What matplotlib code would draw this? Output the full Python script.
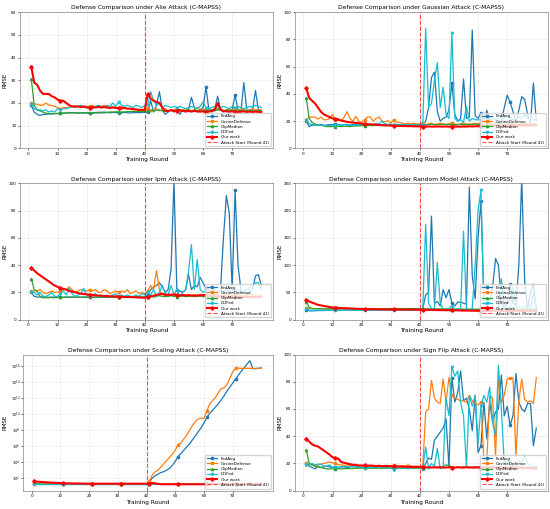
import numpy as np
import matplotlib
matplotlib.use("Agg")
import matplotlib.pyplot as plt

rounds = list(range(1, 81))
attack_round = 40

# ─── Alie ───
alie_fedavg = [19,16,15,14.5,15,15,15.2,15.2,15.3,15.3, 15.5,15.5,15.6,15.6,15.7,15.6,15.5,15.6,15.5,15.6,
               15.4,15.5,15.6,15.6,15.7,15.6,15.8,15.7,15.8,15.8, 15.8,15.7,15.8,15.7,15.6,15.7,15.8,15.7,15.8,15.9,
               16,21,16,19,25,17,15,16,17,16, 17,15,17,16,17,22.5,18,16,17,18,
               27,17,16,17,23,17,16,17,16,17, 23.5,17,16,29,17,16,17,25.5,17,16]
alie_cosine = [20,19.5,19.5,19,19,20,19,19,18.5,18, 17.5,18,18,18,18.5,18,18.5,18,18.5,18.5,
               18.5,19,18,18.5,18.5,19,18.5,18,18.5,18, 18,18.5,18,17.5,17.5,17,17,16.5,16.5,16.5,
               18,16,17,17.5,16.5,17,17.5,16.5,17,17, 17.5,16.5,17,17.5,17,16.5,17,18,17,17.5,
               17,16.5,17,17.5,17,17.5,16.5,17,17.5,17, 18,17,17.5,17,16.5,17,17.5,17,17,17]
alie_clip = [30.5,19,17,16.5,16,15.5,15.3,15.3,15.4,15.4, 15.5,15.5,15.6,15.6,15.7,15.7,15.6,15.7,15.7,15.8,
             15.8,15.7,15.8,15.9,15.9,16,15.9,16,16,16.1, 16.1,16,16.1,16.2,16.2,16.3,16.2,16.3,16.3,16.4,
             16.5,17,16.5,16.8,17,16.5,16.3,16.5,16.8,16.5, 16.8,17,16.5,16.8,17,16.5,16.8,16.5,17,16.8,
             16.5,16.8,17,16.5,17,16.8,16.5,16.8,17,16.8, 16.5,16.8,16.5,16.8,16.5,16.8,16.5,16.5,16.8,16.5]
alie_ddfed = [19.5,17.5,17,17,16.5,17,16,16.5,16,17.5, 17,17.5,17.5,18,18.5,18,18.5,19,18,18.5,
              18,17.5,18.5,19,18.5,18,19,18.5,20,18.5, 20.5,19,18.5,19,18.5,18,19,18.5,18,19,
              19,25,21,19,20,18,19,18.5,18,18.5, 18,18.5,18,17.5,18,18.5,18,17.5,18.5,20.5,
              18,17.5,18,18.5,17.5,18,18.5,18,17.5,18.5, 18,18.5,18,17.5,18,18.5,18,19,18.5,18]
alie_our = [36,29,28,25.5,24,24,24,23,22.5,21.5, 21,21,20,19,18.5,18.5,18.5,18.2,18.5,18,
            18,18.2,18,18.3,18,18.2,18,17.8,18,17.8, 17.8,17.6,17.8,17.5,17.5,17.3,17.2,17,17,17,
            24,22,21,20.5,20,18,16.5,16.5,16.8,16.5, 16.5,16.8,16.5,16.3,16.5,16.2,16.5,16.3,16.2,16.3,
            16,16.2,16.5,17,20,17,16.5,16.3,16.2,16.3, 16.2,16,16.2,16.3,16,16.2,16,16.2,16,16]

# ─── Gaussian ───
gauss_fedavg = [20,16,17,17,17,17.5,17,17,17.5,17.5, 18,17.5,17,17.5,17.5,17,17.5,17,17,17,
                17.5,17,17.5,17,17.5,17,17,17.5,17,17, 17.5,17,17.5,17,17,17.5,17,17,17.5,17,
                17,20,30,52,56,27,20,22,23,28, 48,25,20,22,51,22,23,87,24,22,
                26,20,28,20,17,20,17,20,30,39, 34,27,20,28,38,36,25,18,48,20]
gauss_cosine = [21,23,23,23,21.5,23,21,21,22,25, 21,22,20,23,27,22,20,23.5,20,19,
                21,23,23,20,22,23,20,19.5,20.5,18.5, 21,19.5,19,18.5,18,18.5,18,18.5,18,18,
                18.5,17.5,18,18.5,17.5,18,18.5,18,17.5,18, 18.5,18,17.5,18,18.5,18,17.5,18,18.5,18,
                19,19,18.5,18,17.5,18,18.5,18,17.5,18, 18.5,18,17.5,18,18,18.5,18,17.5,18,18]
gauss_clip = [37,22,19,18,17,17,16.5,16,16,16, 16,16.2,16,16.3,16.2,16,16.3,16.5,16.5,16.7,
              16.5,16.7,16.8,16.7,17,16.8,17,16.8,17,17, 17,16.8,17,17.2,17,17.2,17,17.2,17,17,
              17.5,17.3,17.5,17.8,17.5,17.3,17.5,17.8,17.5,17.8, 17.5,17.3,17.5,17.8,17.5,17.3,17.8,17.5,17.8,17.5,
              17.8,17.5,17.8,17.5,17.8,17.5,17.8,17.5,17.8,17.5, 17.8,17.5,17.8,17.5,17.8,17.5,17.8,17.5,17.8,17.5]
gauss_ddfed = [21,18,17.5,17,17,17,16.8,17,16.8,17, 17,17.2,17,17.5,17,17.3,17,17.5,17.2,17.5,
               17.8,17.5,18,17.5,18.5,17.8,20,18,17.5,17.8, 17.5,17.8,17.5,17.3,17.5,17.3,17.5,17.3,17.5,17.3,
               17,88,30,33,50,63,30,45,25,22, 85,22,20,21,19,31,20,22,21,21,
               21,20,22,21,22,21,22,23,22,24, 22,21,22,23,22,25,22,21,22,20]
gauss_our = [44,37,35,33,30,27,25,24,23,22, 21.5,21,20.5,20,19.5,19.2,19,18.7,18.5,18.2,
             18,17.8,17.6,17.5,17.3,17.2,17,16.9,16.8,16.7, 16.6,16.5,16.5,16.4,16.4,16.3,16.3,16.2,16.2,16.2,
             16,16,16.1,16,16,16.1,16,16,16.1,16, 16,16.1,16,16,16.1,16,16.2,16.1,16.2,16.3,
             16.2,16.3,16.4,16.3,16.5,16.4,16.5,16.6,16.5,16.6, 16.7,16.6,16.7,16.8,16.7,16.8,16.9,16.8,17,17]

# ─── Ipm ───
ipm_fedavg = [20,17,16.5,16.5,16.5,16.5,16.3,16.5,16.3,16.5, 16.5,16.3,16.5,16.5,16.3,16.5,16.5,16.3,16.5,16.5,
              16.5,16.3,16.5,16.5,16.5,16.3,16.5,16.5,16.3,16.5, 16.5,16.5,16.3,16.5,16.5,16.3,16.5,16.5,16.3,16.5,
              18,22,24,25,27,24,20,22,37,102, 22,21,20,22,33,22,25,24,31,27,
              23,22,20,17,19,22,60,91,78,22, 95,40,22,20,18,20,22,32,33,25]
ipm_cosine = [21,21,21,22,20,19,20,21,20,20, 21,22,22,24,22,20,21,22,21,21,
              22,21,22,20,20,22,21,19,20,21, 20,21,20,22,19,20,21,19,20,19,
              21,25,22,36,22,18,19,18,18.5,18, 17.5,18,18.5,18,17.5,18,17.5,18,18.5,18,
              18,17.5,18,18.5,18,17.5,18,18.5,18,17.5, 18,18.5,18,17.5,18,18,18.5,18,17.5,18]
ipm_clip = [30,22,21,17,16,16,16,16.2,16,16.2, 16.5,16.2,16.5,16.3,16.5,16.3,16.5,16.3,16.5,16.3,
            16.5,16.3,16.5,16.3,16.5,16.3,16.5,16.5,16.5,16.5, 16.5,16.5,16.5,16.5,16.5,16.5,16.5,16.5,16.5,16.5,
            16.5,17,16.5,17,17.5,17,16.8,17,17.5,17, 16.8,17,17.2,16.8,17,17.2,16.8,17,17.2,16.8,
            17,16.8,17,16.8,17,16.8,17,16.8,17,16.8, 17,16.8,17,16.8,17,16.8,17,16.8,17,16.8]
ipm_ddfed = [20,20,18,20,17,17,18,20,17,17, 19,21,18,23,19,17,18,19,23,18,
             17,18,19,17,18,17,18,17,18,19, 17,18,17,18,17,17,18,17,19,18,
             20,18,22,17,20,25,19,18,25,18, 22,17,20,22,35,55,22,44,22,20,
             21,20,21,22,20,21,20,22,21,20, 21,22,20,21,22,23,25,27,27,22]
ipm_our = [38,36,34,32.5,31,29.5,28,26.5,25,24, 23,22.5,22,21,20.5,20,19.5,19,18.7,18.5,
           18.3,18,17.8,17.6,17.5,17.3,17.2,17,17,17, 16.8,16.7,16.6,16.5,16.5,16.4,16.3,16.2,16.1,16,
           16.5,17,17.5,18,18.5,19,18,18.3,18,18.5, 18,17.5,18,17.5,18,17.5,17.8,17.5,17.8,18,
           18,17.5,17,17.2,17,16.8,17,16.8,16.7,16.8, 16.6,16.7,16.5,16.6,16.5,16.4,16.5,16.4,16.5,16.5]

# ─── Random Model ───
rand_fedavg = [18,16,16,16,16.5,16.5,16.5,17,17,17, 17,17,17,17.5,17.5,17.5,17.5,17.5,17.5,17,
               17.5,17.5,17.5,17.5,18,18,18,18,18,18, 18,18,18,18,18,18,18,18,18,18,
               20,45,50,190,30,33,25,55,40,55, 30,25,32,32,30,28,243,80,38,150,
               218,30,25,30,60,112,100,30,25,28, 65,30,25,100,260,70,20,50,65,20]
rand_cosine = [21,20.5,20.5,20,20,20,20,20,20,20, 20,20,20,20,20,20,20,20,20,20,
               20,20,20,20,19.5,19.5,19.5,19.5,19.5,19.5, 19.5,19.5,19.5,19.5,19,19,19,19,19,19,
               18.5,18.5,18.5,18.5,18.5,18.5,18.5,18.5,18.5,18.5, 18,18,18,18,18,18,18,18,18,18,
               18,18,18,18,18,18,18,18,18,18, 18,18,18,18,18,18,18,18,18,18]
rand_clip = [33,22,20,20,19.5,19.5,19.5,19.5,19.5,19.5, 19.5,19.5,20,20,20,20,20,20,20,20,
             20,20,20,20,20,20,20,20,20,20, 20,20,20,20,20,20,20,20,20,20,
             19.5,19.5,19.5,19.5,19.5,19.5,19.5,19.5,19.5,19.5, 19,19,19,19,19,19,19,19,19,19,
             19,19,19,19,19,19,19,19,19,19, 19,19,19,19,19,19,19,19,19,19]
rand_ddfed = [20,17,17,17,17,17,17,17,17,17, 17,17,17,17,17,17,17,17,17,17,
              17,17,17,17,17,17,17,17,17,17, 17,17,17,17,17,17,17,17,17,17,
              18,175,30,20,18,105,30,20,18,20, 25,18,20,18,162,20,18,20,100,200,
              237,30,20,18,20,20,22,75,20,22, 20,60,25,22,20,25,22,20,50,22]
rand_our = [36,33,31,29,27,26,25,24,23,22, 22,21.5,21,21,20.5,20.5,20,20,19.5,19.5,
            19,19,19,19,18.8,18.8,18.7,18.6,18.5,18.5, 18.5,18.4,18.3,18.3,18.2,18.2,18.1,18.1,18,18,
            17.8,17.8,17.7,17.6,17.5,17.4,17.3,17.2,17.1,17, 17,16.8,16.8,16.6,16.5,16.5,16.3,16.2,16.1,16,
            16,16,16,16,16,16,16,16,16,16, 16,16,16,16,16,16,16,16,16,16]

# ─── Scaling (FedAvg / CosineDefense read as log10 RMSE) ───
scale_fedavg_exp = [1.3,1.22,1.2,1.2,1.2,1.2,1.2,1.2,1.2,1.2, 1.2,1.2,1.2,1.2,1.2,1.2,1.2,1.2,1.2,1.2,
                    1.2,1.2,1.2,1.2,1.2,1.2,1.2,1.2,1.2,1.2, 1.2,1.2,1.2,1.2,1.2,1.2,1.2,1.2,1.2,1.2,
                    1.5,2.0,2.3,2.5,2.7,2.8,3.0,3.2,3.6,4.1, 4.7,5.1,5.5,5.9,6.3,6.8,7.3,7.8,8.3,8.9,
                    9.6,10.1,10.5,10.9,11.3,11.8,12.3,12.9,13.4,13.9, 14.4,14.9,15.4,15.8,16.3,16.7,15.7,15.7,15.75,15.8]
scale_cosine_exp = [1.3,1.28,1.28,1.28,1.28,1.28,1.28,1.28,1.28,1.28, 1.28,1.28,1.28,1.28,1.28,1.28,1.28,1.28,1.28,1.28,
                    1.28,1.28,1.28,1.28,1.28,1.28,1.28,1.28,1.28,1.28, 1.28,1.28,1.28,1.28,1.28,1.28,1.28,1.28,1.28,1.28,
                    1.6,2.4,2.8,3.0,3.4,3.8,4.2,4.6,5.0,5.5, 6.2,6.4,6.9,7.4,8.0,8.6,9.1,9.4,9.5,9.5,
                    10.4,11.3,11.7,12.1,12.7,13.2,13.3,13.7,14.5,15.3, 15.75,15.75,15.75,15.75,15.75,15.75,15.75,15.75,15.75,15.75]
scale_clip = [30,20,18,17,16.5,16.5,16.5,16.5,16.5,16.5, 16.5,16.5,16.5,16.5,16.5,16.5,16.5,16.5,16.5,16.5,
              16.5,16.5,16.5,16.5,16.5,16.5,16.5,16.5,16.5,16.5, 16.5,16.5,16.5,16.5,16.5,16.5,16.5,16.5,16.5,16.5,
              17,17,17,17,17,17,17,17,17,17, 17,17,17,17,17,17,17,17,17,17,
              17,17,17,17,17,17,17,17,17,17, 17,17,17,17,17,17,17,17,17,17]
scale_ddfed = [17,16,16,16,16,16,16,16,16,16, 16,16,16,16,16,16,16,16,16,16,
               16,16,16,16,16,16,16,16,16,16, 16,16,16,16,16,16,16,16,16,16,
               16.5,16.5,16.5,16.5,16.5,16.5,16.5,16.5,16.5,16.5, 16.5,16.5,16.5,16.5,16.5,16.5,16.5,16.5,16.5,16.5,
               16.5,16.5,16.5,16.5,16.5,16.5,16.5,16.5,16.5,16.5, 16.5,16.5,16.5,16.5,16.5,16.5,16.5,16.5,16.5,16.5]
scale_our = [38,36,34,32,30,28,27,26,25,24, 23,22.5,22,21.5,21,21,20.5,20.5,20,20,
             20,20,20,20,20,20,20,20,20,20, 20,20,20,20,20,20,20,20,20,20,
             20,25,22,19,17,17,17,17,17,17, 17,17,17,17,17,17,17,17,17,17,
             17,17,17,17,17,17,17,17,17,17, 17,17,17,17,17,17,17,17,17,17]
scale_yticks = [1e2, 1e4, 1e6, 1e8, 1e10, 1e12, 1e14, 1e16]

# ─── Sign Flip ───
flip_fedavg = [20,18,17,16,18,17,17.5,18,17.5,17, 17.5,17,17.5,17.5,17,17.5,18,17.5,17,17.5,
               17.5,17,17.5,17.5,17,17.5,17.5,17,17.5,17.5, 17,17.5,17.5,17,17.5,17,17.5,17.5,17,17,
               16,20,24,23,37,40,43,46,53,17, 83,65,72,88,66,68,60,44,70,28,
               33,65,38,65,50,58,60,85,55,62, 48,55,86,65,60,58,64,64,33,46]
flip_cosine = [20,19,19,18,19,19.5,20,20.5,21,20.5, 20,19,19,18.5,19,18.5,18,18.5,18,18.5,
               18,18.5,18,18.5,18,18.5,18,18,18.5,18, 18.5,18,18,18.5,18,19,18,17.5,18,17.5,
               17,58,60,81,68,65,64,82,65,83, 70,68,67,66,66,65,70,66,64,63,
               65,22,21,70,68,25,82,65,70,82, 83,83,25,66,82,67,65,66,64,83]
flip_clip = [30,20,19,18,17.5,17,16.5,16,16,16, 16,16,16,16.2,16.2,16.3,16.3,16.5,16.5,16.5,
             16.5,16.5,16.5,16.5,16.5,16.5,16.5,16.5,16.5,16.5, 16.5,16.5,16.5,16.5,16.5,16.5,16.5,16.5,16.5,16.5,
             17,17,17,17,17,17.5,17,17.5,19,18.5, 17.5,17,17.5,17,17.5,17,17.5,17,17.5,17,
             17.5,17,17.5,17,17.5,17,17.5,17,17,17, 17,17,17,17,17,17,17,17,17,17]
flip_ddfed = [19,19.5,20,19,19.5,19.5,18,18,19,17, 17.5,17,17.5,18,17.5,18,17.5,18,17,17.5,
              17,17.5,17,17.5,17,17.5,17,17.5,17,16.5, 15.5,17,16.5,17,16.5,16,17,18,17.5,17,
              16,32,16,20,18,31,16,18,68,55, 91,84,88,65,55,17,70,62,70,35,
              62,70,65,76,50,40,92,60,20,22, 20,18,20,22,20,26,20,18,17,18]
flip_our = [38,36,34,33,32.5,31,29.5,28,26.5,24.5, 24,23.5,21,20.5,20,19.5,19,19,18.5,18.5,
            18.5,18.3,18.5,18.3,18,18.3,18,18.2,18,18, 18,17.8,17.8,17.6,17.6,17.5,17.5,17.5,17.5,17.5,
            17.5,17,17.2,17,17.2,17,17.2,17,17,17.2, 17,17,17.2,17,17,17.2,17,17,17,17.2,
            17,17,17,17,17,17,17,17,17,17, 17,17,17,16.8,16.8,16.8,16.5,16.5,16.5,16]

methods = ["FedAvg", "CosineDefense", "ClipMedian", "DDFed", "Our work"]
colors = ["#1f77b4", "#ff7f0e", "#2ca02c", "#17becf", "red"]
markers = ["o", "s", "^", "v", "P"]

panels = [
    ("Alie", [alie_fedavg, alie_cosine, alie_clip, alie_ddfed, alie_our], (0, 60), False),
    ("Gaussian", [gauss_fedavg, gauss_cosine, gauss_clip, gauss_ddfed, gauss_our], (0, 100), False),
    ("Ipm", [ipm_fedavg, ipm_cosine, ipm_clip, ipm_ddfed, ipm_our], (0, 100), False),
    ("Random Model", [rand_fedavg, rand_cosine, rand_clip, rand_ddfed, rand_our], (0, 250), False),
    ("Scaling", [np.power(10.0, scale_fedavg_exp), np.power(10.0, scale_cosine_exp),
                 scale_clip, scale_ddfed, scale_our], None, True),
    ("Sign Flip", [flip_fedavg, flip_cosine, flip_clip, flip_ddfed, flip_our], (0, 100), False),
]

fig, axes = plt.subplots(3, 2, figsize=(5.5, 5.09), dpi=100)
fig.subplots_adjust(left=0.036, right=0.996, bottom=0.036, top=0.976, wspace=0.087, hspace=0.257)

for ax, (name, series, ylim, logy) in zip(axes.flat, panels):
    for vals, lab, c, m in zip(series, methods, colors, markers):
        ours = lab == "Our work"
        ax.plot(rounds, vals, color=c, marker=m, markevery=10, label=lab,
                linewidth=1.5 if ours else 0.9, markersize=2.2 if ours else 1.6)
    ax.axvline(attack_round, color="red", linestyle="--", linewidth=0.8, alpha=0.7,
               label="Attack Start (Round 41)")
    if logy:
        ax.set_yscale("log")
        ax.set_yticks(scale_yticks)
        ax.minorticks_off()
        # log panel sits a little to the right, to make room for 10^16 labels
        p = ax.get_position()
        ax.set_position([p.x0 + 0.006, p.y0, p.width - 0.006, p.height])
    if ylim:
        ax.set_ylim(*ylim)
    ax.set_xticks(range(0, 80, 10))
    ax.set_title(f"Defense Comparison under {name} Attack (C-MAPSS)", fontsize=4.3, pad=2)
    ax.set_xlabel("Training Round", fontsize=4.2, labelpad=1)
    ax.set_ylabel("RMSE", fontsize=4.0)
    ax.yaxis.set_label_coords(-0.062 if logy else -0.05, 0.5)
    ax.tick_params(labelsize=3.0, length=1.5, width=0.4, pad=1)
    if logy:
        ax.tick_params(axis="y", labelsize=2.6, pad=0.5)
    ax.grid(True, alpha=0.3, linewidth=0.4)
    for sp in ax.spines.values():
        sp.set_linewidth(0.5)
        sp.set_color("#888888")
    ax.legend(loc="lower right", fontsize=3.0, handlelength=2.5, labelspacing=0.3,
              borderpad=0.4, framealpha=0.8, edgecolor="#cccccc")

fig.savefig("out.png", dpi=100)
